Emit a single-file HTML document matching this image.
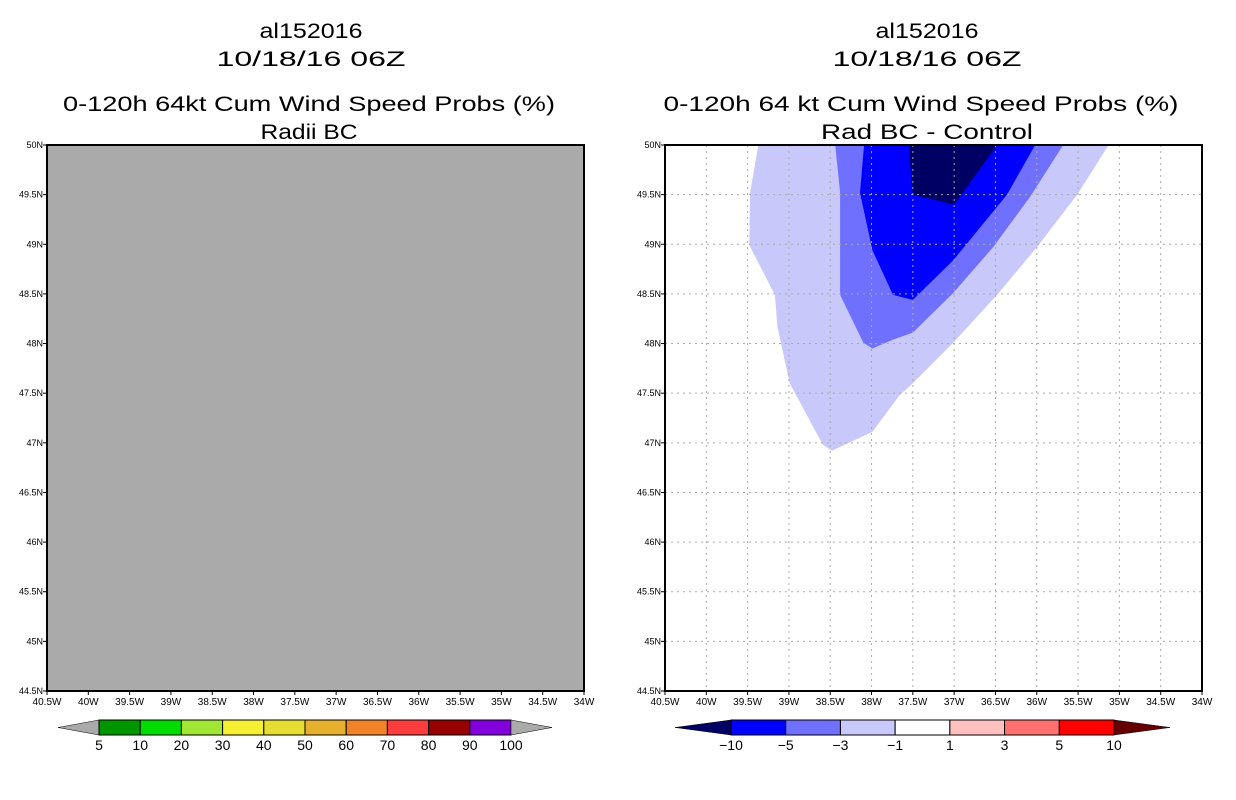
<!DOCTYPE html>
<html><head><meta charset="utf-8"><style>
html,body{margin:0;padding:0;background:#fff;}
svg{display:block;font-family:"Liberation Sans",sans-serif;}
</style></head><body>
<svg id="chart" width="1236" height="800" viewBox="0 0 1236 800">
<g id="titles" font-size="21" text-anchor="middle" fill="#000">
<text x="311" y="38" textLength="103" lengthAdjust="spacingAndGlyphs">al152016</text>
<text x="311" y="66" textLength="189" lengthAdjust="spacingAndGlyphs">10/18/16 06Z</text>
<text x="309" y="111" textLength="492" lengthAdjust="spacingAndGlyphs">0-120h 64kt Cum Wind Speed Probs (%)</text>
<text x="309" y="139" textLength="97" lengthAdjust="spacingAndGlyphs">Radii BC</text>
<text x="927" y="38" textLength="103" lengthAdjust="spacingAndGlyphs">al152016</text>
<text x="927" y="66" textLength="189" lengthAdjust="spacingAndGlyphs">10/18/16 06Z</text>
<text x="921" y="111" textLength="515" lengthAdjust="spacingAndGlyphs">0-120h 64 kt Cum Wind Speed Probs (%)</text>
<text x="927" y="139" textLength="212" lengthAdjust="spacingAndGlyphs">Rad BC - Control</text>
</g>
<g id="left"></g>
<g id="right"></g>
<g id="cbars"></g>
</svg>
<script>
const lonTicks = [-40.5,-40,-39.5,-39,-38.5,-38,-37.5,-37,-36.5,-36,-35.5,-35,-34.5,-34];
const latTicks = [44.5,45,45.5,46,46.5,47,47.5,48,48.5,49,49.5,50];
const contourLevels = ["-3 to -1","-5 to -3","-10 to -5","< -10"];
const contourColors = ["#c8c8fa","#7070ff","#0000ff","#000064"];
const lightLon = [-39.37,-39.47,-39.48,-39.17,-39.14,-38.99,-38.59,-38.48,-37.99,-37.66,-37.50,-37.01,-36.48,-36.00,-35.51,-35.13];
const lightLat = [50,49.52,48.99,48.49,48.17,47.60,46.98,46.92,47.11,47.48,47.60,48.01,48.49,48.97,49.50,50];
const medLon = [-38.44,-38.38,-38.38,-38.10,-37.99,-37.74,-37.50,-37.01,-36.53,-36.08,-35.68];
const medLat = [50,49.52,48.49,48.01,47.95,48.04,48.11,48.51,48.97,49.48,50];
const blueLon = [-38.09,-38.14,-37.99,-37.74,-37.50,-37.01,-36.36,-36.02];
const blueLat = [50,49.52,48.94,48.49,48.44,48.84,49.50,50];
const darkLon = [-37.55,-37.50,-37.00,-36.48];
const darkLat = [50,49.50,49.40,50];
const leftCbarLabels = ["5","10","20","30","40","50","60","70","80","90","100"];
const leftCbarColors = ["#009600","#00dc00","#a0e632","#f5f032","#e6dc32","#e6af2d","#f08228","#fa3c3c","#960000","#8200dc"];
const rightCbarLabels = ["-10","-5","-3","-1","1","3","5","10"];
const rightCbarColors = ["#0000ff","#7070ff","#c8c8fa","#ffffff","#ffc0c0","#ff7070","#ff0000"];

const NS="http://www.w3.org/2000/svg";
function mk(parent,tag,attrs){const e=document.createElementNS(NS,tag);for(const k in attrs)e.setAttribute(k,attrs[k]);parent.appendChild(e);return e;}
const PW=537, PH=546, PY=145;
function xs(x0,lon){return x0+(lon-(-40.5))/6.5*PW;}
function ys(lat){return PY+(50-lat)/5.5*PH;}

function axes(g,x0,side){
  // tick labels
  lonTicks.forEach(v=>{
    const x=xs(x0,v);
    const l=mk(g,'line',{x1:x,x2:x,y1:PY+PH,y2:PY+PH+4,stroke:'#000','stroke-width':1});
    
    
    const lab=(v===Math.round(v)?Math.abs(v):Math.abs(v).toFixed(1))+'W';
    const t=mk(g,'text',{x:x,y:PY+PH+14,'font-size':10,'text-anchor':'middle'});
    t.textContent=lab;
    
    
  });
  latTicks.forEach(v=>{
    const y=ys(v);
    const l=mk(g,'line',{x1:x0-4,x2:x0,y1:y,y2:y,stroke:'#000','stroke-width':1});
    
    
    const t=mk(g,'text',{x:x0-4,y:y+3,'font-size':9,'text-anchor':'end'});
    t.textContent=(v===Math.round(v)?v:v.toFixed(1))+'N';
    
    
  });
}

// left panel
const L=document.getElementById('left');
const lr=mk(L,'rect',{x:47,y:PY,width:PW,height:PH,fill:'#aaaaaa'});


axes(L,47);
const lb=mk(L,'rect',{x:47,y:PY,width:PW,height:PH,fill:'none',stroke:'#000','stroke-width':2});



// right panel
const R=document.getElementById('right');
const RX=665;
const polys=[[lightLon,lightLat],[medLon,medLat],[blueLon,blueLat],[darkLon,darkLat]];
polys.forEach((p,i)=>{
  const pts=p[0].map((lo,j)=>xs(RX,lo).toFixed(1)+','+ys(p[1][j]).toFixed(1)).join(' ');
  const e=mk(R,'polygon',{points:pts,fill:contourColors[i]});
  
  
});
lonTicks.slice(1,-1).forEach(v=>{
  const x=xs(RX,v);
  const l=mk(R,'line',{x1:x,x2:x,y1:PY,y2:PY+PH,stroke:'#aaaaaa','stroke-width':1,'stroke-dasharray':'2,4'});
  
  
});
latTicks.slice(1,-1).forEach(v=>{
  const y=ys(v);
  const l=mk(R,'line',{x1:RX,x2:RX+PW,y1:y,y2:y,stroke:'#aaaaaa','stroke-width':1,'stroke-dasharray':'2,4'});
  
  
});
axes(R,RX);
const rb=mk(R,'rect',{x:RX,y:PY,width:PW,height:PH,fill:'none',stroke:'#000','stroke-width':2});



// colorbars
const C=document.getElementById('cbars');
function cbar(x0,x1,w,colors,labels,lcol,rcol,name){
  const y0=720,h=15;
  const a1=mk(C,'polygon',{points:`${x0},${y0+h/2} ${x0+w},${y0} ${x0+w},${y0+h}`,fill:lcol,stroke:'#000','stroke-width':0.5});
  
  
  const bw=(x1-x0-2*w)/colors.length;
  colors.forEach((c,i)=>{
    const r=mk(C,'rect',{x:x0+w+i*bw,y:y0,width:bw,height:h,fill:c,stroke:'#000','stroke-width':1});
    
    
  });
  const a2=mk(C,'polygon',{points:`${x1},${y0+h/2} ${x1-w},${y0} ${x1-w},${y0+h}`,fill:rcol,stroke:'#000','stroke-width':0.5});
  
  
  labels.forEach((s,i)=>{
    const t=mk(C,'text',{x:x0+w+i*bw,y:750,'font-size':14,'text-anchor':'middle'});
    t.textContent=s.replace('-','\u2212');
    
    
  });
}
cbar(58,552,41,leftCbarColors,leftCbarLabels,'#aaaaaa','#aaaaaa','left-colorbar');
cbar(675,1170,56,rightCbarColors,rightCbarLabels,'#000064','#640000','right-colorbar');
</script>
</body></html>
